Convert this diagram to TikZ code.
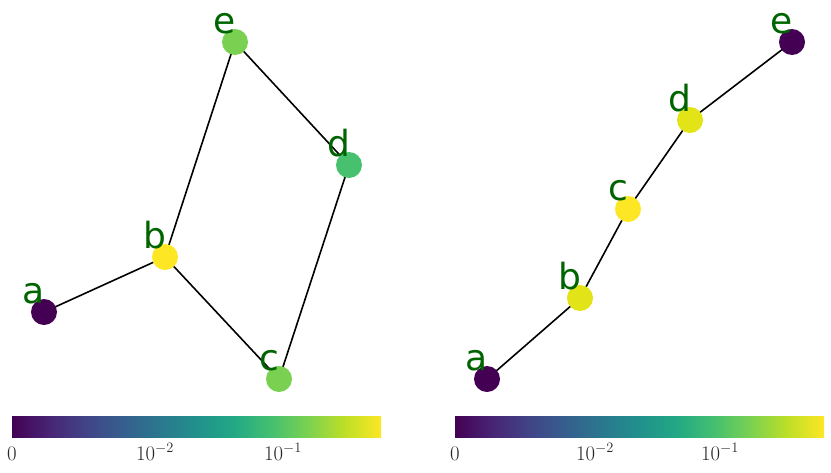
\documentclass[tikz,border=0pt]{standalone}
\usepackage{fontspec}
\newfontfamily\lblfont{DejaVu Sans}
\definecolor{vA}{RGB}{68,1,84}
\definecolor{dgreen}{RGB}{72,193,110}
\definecolor{lgreen}{RGB}{122,209,81}
\definecolor{yel}{RGB}{253,231,37}
\definecolor{yel2}{RGB}{226,228,24}
\definecolor{lbl}{RGB}{0,100,0}
\pgfdeclarehorizontalshading{viridis}{100bp}{
rgb(0bp)=(0.267,0.004,0.329);
rgb(25bp)=(0.267,0.004,0.329);
rgb(30bp)=(0.282,0.141,0.459);
rgb(35bp)=(0.255,0.267,0.529);
rgb(40bp)=(0.208,0.373,0.553);
rgb(45bp)=(0.165,0.471,0.557);
rgb(50bp)=(0.129,0.569,0.549);
rgb(55bp)=(0.133,0.659,0.518);
rgb(60bp)=(0.267,0.749,0.439);
rgb(65bp)=(0.478,0.820,0.318);
rgb(70bp)=(0.741,0.875,0.149);
rgb(75bp)=(0.992,0.906,0.145);
rgb(100bp)=(0.992,0.906,0.145)}
\tikzset{
  gnode/.style={circle, inner sep=0pt, minimum size=26pt, draw=none},
  glabel/.style={anchor=base, inner sep=0pt, text=lbl, font=\lblfont\fontsize{36}{42}\selectfont},
  gedge/.style={line width=1.6pt, black},
  ticklbl/.style={anchor=base, inner sep=0pt, text=black!85, font=\fontsize{22}{26}\selectfont},
  cbar/.style={draw=none, inner sep=0pt, minimum width=369pt, minimum height=21pt, anchor=north west, shading=viridis}
}
\begin{document}
\begin{tikzpicture}[x=1pt,y=-1pt]
\useasboundingbox (0,0) rectangle (831,472);
% node positions (discs drawn after the edges)
\coordinate (a1) at (44,312);
\coordinate (b1) at (165,257);
\coordinate (c1) at (279,379);
\coordinate (d1) at (349,165);
\coordinate (e1) at (235,42);
\coordinate (a2) at (487,379);
\coordinate (b2) at (580,298);
\coordinate (c2) at (628,209);
\coordinate (d2) at (690,120);
\coordinate (e2) at (792,42);
% edges
\draw[gedge] (a1) -- (b1);
\draw[gedge] (b1) -- (c1);
\draw[gedge] (b1) -- (e1);
\draw[gedge] (c1) -- (d1);
\draw[gedge] (d1) -- (e1);
\draw[gedge] (a2) -- (b2);
\draw[gedge] (b2) -- (c2);
\draw[gedge] (c2) -- (d2);
\draw[gedge] (d2) -- (e2);
% node discs
\node[gnode, fill=vA] (na1) at (a1) {};
\node[gnode, fill=yel] (nb1) at (b1) {};
\node[gnode, fill=lgreen] (nc1) at (c1) {};
\node[gnode, fill=dgreen] (nd1) at (d1) {};
\node[gnode, fill=lgreen] (ne1) at (e1) {};
\node[gnode, fill=vA] (na2) at (a2) {};
\node[gnode, fill=yel2] (nb2) at (b2) {};
\node[gnode, fill=yel] (nc2) at (c2) {};
\node[gnode, fill=yel2] (nd2) at (d2) {};
\node[gnode, fill=vA] (ne2) at (e2) {};
% labels
\node[glabel] (la1) at (34,303) {a};
\node[glabel] (lb1) at (155,248) {b};
\node[glabel] (lc1) at (269,370) {c};
\node[glabel] (ld1) at (339,156) {d};
\node[glabel] (le1) at (225,33) {e};
\node[glabel] (la2) at (477,370) {a};
\node[glabel] (lb2) at (570,289) {b};
\node[glabel] (lc2) at (618,200) {c};
\node[glabel] (ld2) at (680,111) {d};
\node[glabel] (le2) at (782,33) {e};
% colorbars
\node[cbar] (cb1) at (12,416) {};
\node[cbar] (cb2) at (455,416) {};
\node[ticklbl] (t10) at (12,460) {$0$};
\node[ticklbl] (t11) at (155,460) {$10^{-2}$};
\node[ticklbl] (t12) at (283,460) {$10^{-1}$};
\node[ticklbl] (t20) at (455,460) {$0$};
\node[ticklbl] (t21) at (595,460) {$10^{-2}$};
\node[ticklbl] (t22) at (720,460) {$10^{-1}$};
\end{tikzpicture}
\end{document}
